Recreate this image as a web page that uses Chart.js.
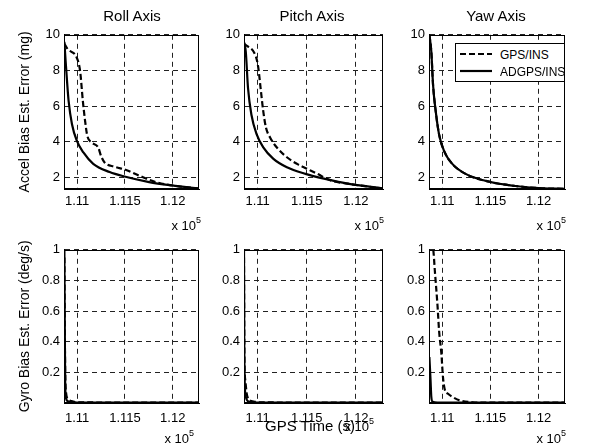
<!DOCTYPE html>
<html>
<head>
<meta charset="utf-8">
<script src="https://cdn.jsdelivr.net/npm/chart.js@4.4.1/dist/chart.umd.min.js"></script>
<style>
    body { margin: 0; background: #fff; font-family: "Liberation Sans", Arial, sans-serif; }
    #wrap { position: relative; width: 594px; height: 447px; overflow: hidden; background: #fff; }
    .lbl { position: absolute; color: #000; white-space: nowrap; line-height: 1; }
    .center { transform: translate(-50%, -50%); }
    .rightAl { transform: translate(-100%, -50%); }
    .lbl sup { font-size: 9px; position: relative; top: -2px; }
    #legend { position: absolute; left: 455px; top: 43px; width: 108px; height: 37px; background: #fff; border: 1px solid #000; }
    #legend .row { position: absolute; left: 0; height: 16px; font-size: 12px; }
    #legend svg { position: absolute; left: 4px; top: 4px; }
    #legend span { position: absolute; left: 44px; top: 2px; white-space: nowrap; }
</style>
</head>
<body>
<div id="wrap"></div>
<script>
// axes
const xMin = 110862, xMax = 112275;
const xTickValues = [111000, 111500, 112000];
const xTickLabels = ["1.11", "1.115", "1.12"];
const accelTicks = [2, 4, 6, 8, 10];
const accelTickLabels = ["2", "4", "6", "8", "10"];
const accelMin = 1.35, accelMax = 10;
const gyroTicks = [0, 0.2, 0.4, 0.6, 0.8, 1];
const gyroTickLabels = ["", "0.2", "0.4", "0.6", "0.8", "1"];
const gyroMin = 0, gyroMax = 1;
const seriesNames = ["GPS/INS", "ADGPS/INS"];
const panelTitles = ["Roll Axis", "Pitch Axis", "Yaw Axis"];

// accel bias, roll
const rollAccelGpsT = [110866, 110900, 110997, 111031, 111059, 111082, 111106, 111151, 111220, 111250, 111285, 111392, 111512, 111649, 111822, 112062, 112275];
const rollAccelGpsV = [9.5, 9.2, 8.7, 7.95, 6.3, 5.2, 4.33, 3.96, 3.68, 3.2, 2.85, 2.6, 2.42, 2.1, 1.74, 1.5, 1.38];
const rollAccelAdT = [110866, 110878, 110895, 110910, 110945, 110997, 111065, 111168, 111340, 111495, 111753, 111990, 112275];
const rollAccelAdV = [9.6, 8.6, 7.3, 6.3, 5.0, 4.05, 3.4, 2.76, 2.3, 2.05, 1.74, 1.55, 1.37];

// accel bias, pitch
const pitchAccelGpsT = [110862, 110880, 110983, 111006, 111031, 111058, 111085, 111127, 111196, 111298, 111401, 111504, 111607, 111744, 111916, 112275];
const pitchAccelGpsV = [9.5, 9.43, 8.78, 8.2, 7.0, 5.7, 4.8, 4.24, 3.68, 3.13, 2.76, 2.48, 2.2, 1.83, 1.65, 1.37];
const pitchAccelAdT = [110862, 110880, 110903, 110938, 110990, 111058, 111161, 111298, 111487, 111675, 111916, 112275];
const pitchAccelAdV = [9.6, 9.06, 7.0, 5.5, 4.43, 3.68, 3.04, 2.57, 2.2, 1.93, 1.65, 1.38];

// accel bias, yaw
const yawAccelGpsT = [110866, 110886, 110904, 110932, 110966, 111017, 111104, 111242, 111500, 111759, 112000, 112275];
const yawAccelGpsV = [10.0, 9.06, 7.2, 5.7, 4.43, 3.5, 2.76, 2.2, 1.74, 1.52, 1.4, 1.36];
const yawAccelAdT = [110866, 110886, 110904, 110932, 110966, 111017, 111104, 111242, 111500, 111759, 112000, 112275];
const yawAccelAdV = [10.0, 9.06, 7.2, 5.7, 4.43, 3.5, 2.76, 2.2, 1.74, 1.52, 1.4, 1.36];

// gyro bias
const rollGyroGpsT = [110866, 110870, 110876, 110885, 110900, 110940, 111050, 112275];
const rollGyroGpsV = [0.95, 0.5, 0.17, 0.06, 0.03, 0.012, 0.004, 0.002];
const rollGyroAdT = [110866, 110869, 110874, 110880, 110895, 110930, 111000, 112275];
const rollGyroAdV = [1.0, 0.6, 0.15, 0.05, 0.015, 0.006, 0.003, 0.002];
const pitchGyroGpsT = [110862, 110866, 110875, 110890, 110910, 110960, 111060, 112275];
const pitchGyroGpsV = [0.95, 0.3, 0.15, 0.06, 0.025, 0.01, 0.004, 0.002];
const pitchGyroAdT = [110862, 110864, 110870, 110880, 110900, 110950, 111050, 112275];
const pitchGyroAdV = [1.0, 0.5, 0.12, 0.04, 0.012, 0.005, 0.003, 0.002];
const yawGyroGpsT = [110866, 110906, 110923, 110950, 110967, 110991, 111007, 111025, 111060, 111093, 111179, 111315, 111500, 112275];
const yawGyroGpsV = [1.05, 1.0, 0.86, 0.64, 0.47, 0.32, 0.17, 0.09, 0.06, 0.045, 0.017, 0.005, 0.002, 0.002];
const yawGyroAdT = [110866, 110878, 110886, 110900, 110950, 112275];
const yawGyroAdV = [0.3, 0.15, 0.04, 0.008, 0.003, 0.002];

Chart.defaults.font.family = '"Liberation Sans", Arial, sans-serif';
Chart.defaults.color = "#000";

const wrap = document.getElementById("wrap");

// plot boxes in page pixels
const cols = [
    { pl: 64, pr: 199, cl: 0 },
    { pl: 244, pr: 383, cl: 204 },
    { pl: 429, pr: 565, cl: 389 }
];
const rows = [
    { pt: 33, pb: 189, tickPad: 5 },
    { pt: 248, pb: 403, tickPad: 8 }
];

const framePlugin = {
    id: "frame",
    afterDatasetsDraw(chart) {
        const a = chart.chartArea;
        const ctx = chart.ctx;
        ctx.save();
        ctx.setLineDash([]);
        ctx.strokeStyle = "#000";
        ctx.lineWidth = 1;
        ctx.strokeRect(Math.round(a.left) + 0.5, Math.round(a.top) + 0.5,
            Math.round(a.right - a.left) - 1, Math.round(a.bottom - a.top) - 1);
        ctx.restore();
    }
};

function pts(t, v) {
    return t.map((x, i) => ({ x: x, y: v[i] }));
}

function makePanel(col, row, yTicks, yLabels, yMin, yMax, gpsT, gpsV, adT, adV, yTitle) {
    let cv = document.createElement("canvas");
    let ct = row.pt - 10;
    let w = col.pr + 8 - col.cl;
    let h = row.pb + 28 - ct;
    cv.width = w;
    cv.height = h;
    cv.style.position = "absolute";
    cv.style.left = col.cl + "px";
    cv.style.top = ct + "px";
    cv.style.width = w + "px";
    cv.style.height = h + "px";
    wrap.appendChild(cv);

    new Chart(cv, {
        type: "line",
        data: {
            datasets: [{
                label: seriesNames[0],
                data: pts(gpsT, gpsV),
                borderColor: "#000",
                borderWidth: 2.2,
                borderDash: [6, 3],
                pointRadius: 0,
                cubicInterpolationMode: "monotone",
                fill: false
            }, {
                label: seriesNames[1],
                data: pts(adT, adV),
                borderColor: "#000",
                borderWidth: 2.2,
                pointRadius: 0,
                cubicInterpolationMode: "monotone",
                fill: false
            }]
        },
        options: {
            responsive: false,
            animation: false,
            devicePixelRatio: 1,
            layout: { padding: { left: 0, top: 10, right: 8, bottom: 0 } },
            plugins: { legend: { display: false }, tooltip: { enabled: false } },
            scales: {
                x: {
                    type: "linear",
                    min: xMin,
                    max: xMax,
                    afterBuildTicks: s => { s.ticks = xTickValues.map(v => ({ value: v })); },
                    afterFit: s => { s.height = 28; },
                    ticks: {
                        callback: (v, i) => xTickLabels[i],
                        color: "#000",
                        font: { size: 13 },
                        padding: row.tickPad,
                        maxRotation: 0,
                        autoSkip: false
                    },
                    grid: { color: "#222", lineWidth: 1, drawTicks: false },
                    border: { color: "#000", dash: [5, 4] }
                },
                y: {
                    type: "linear",
                    min: yMin,
                    max: yMax,
                    afterBuildTicks: s => { s.ticks = yTicks.map(v => ({ value: v })); },
                    afterFit: s => { s.width = col.pl - col.cl; },
                    ticks: {
                        callback: (v, i) => yLabels[i],
                        color: "#000",
                        font: { size: 13 },
                        padding: 4,
                        autoSkip: false
                    },
                    grid: { color: "#222", lineWidth: 1, drawTicks: false },
                    border: { color: "#000", dash: [5, 4] },
                    title: {
                        display: !!yTitle,
                        text: yTitle || "",
                        color: "#000",
                        font: { size: 14 },
                        padding: { top: 17, bottom: 0 }
                    }
                }
            }
        },
        plugins: [framePlugin]
    });
}

makePanel(cols[0], rows[0], accelTicks, accelTickLabels, accelMin, accelMax, rollAccelGpsT, rollAccelGpsV, rollAccelAdT, rollAccelAdV, "Accel Bias Est. Error (mg)");
makePanel(cols[1], rows[0], accelTicks, accelTickLabels, accelMin, accelMax, pitchAccelGpsT, pitchAccelGpsV, pitchAccelAdT, pitchAccelAdV, null);
makePanel(cols[2], rows[0], accelTicks, accelTickLabels, accelMin, accelMax, yawAccelGpsT, yawAccelGpsV, yawAccelAdT, yawAccelAdV, null);
makePanel(cols[0], rows[1], gyroTicks, gyroTickLabels, gyroMin, gyroMax, rollGyroGpsT, rollGyroGpsV, rollGyroAdT, rollGyroAdV, "Gyro Bias Est. Error (deg/s)");
makePanel(cols[1], rows[1], gyroTicks, gyroTickLabels, gyroMin, gyroMax, pitchGyroGpsT, pitchGyroGpsV, pitchGyroAdT, pitchGyroAdV, null);
makePanel(cols[2], rows[1], gyroTicks, gyroTickLabels, gyroMin, gyroMax, yawGyroGpsT, yawGyroGpsV, yawGyroAdT, yawGyroAdV, null);

function addLabel(html, x, y, size, cls) {
    let d = document.createElement("div");
    d.className = "lbl " + cls;
    d.style.left = x + "px";
    d.style.top = y + "px";
    d.style.fontSize = size + "px";
    d.innerHTML = html;
    wrap.appendChild(d);
}

// panel titles
addLabel(panelTitles[0], 132, 15, 15, "center");
addLabel(panelTitles[1], 312, 15, 15, "center");
addLabel(panelTitles[2], 496, 15, 15, "center");

// exponent labels
let expText = "x 10<sup>5</sup>";
addLabel(expText, 201, 225, 13, "rightAl");
addLabel(expText, 384, 225, 13, "rightAl");
addLabel(expText, 566, 225, 13, "rightAl");
addLabel(expText, 194, 438, 13, "rightAl");
addLabel(expText, 374, 426, 13, "rightAl");
addLabel(expText, 566, 438, 13, "rightAl");

addLabel("GPS Time (s)", 310, 425, 15, "center");

// legend
let lg = document.createElement("div");
lg.id = "legend";
lg.innerHTML =
    '<div class="row" style="top:2px"><svg width="32" height="8"><line x1="0" y1="4" x2="32" y2="4" stroke="#000" stroke-width="2.2" stroke-dasharray="6 3"/></svg><span>' + seriesNames[0] + '</span></div>' +
    '<div class="row" style="top:19px"><svg width="32" height="8"><line x1="0" y1="4" x2="32" y2="4" stroke="#000" stroke-width="2.2"/></svg><span>' + seriesNames[1] + '</span></div>';
wrap.appendChild(lg);
</script>
</body>
</html>
